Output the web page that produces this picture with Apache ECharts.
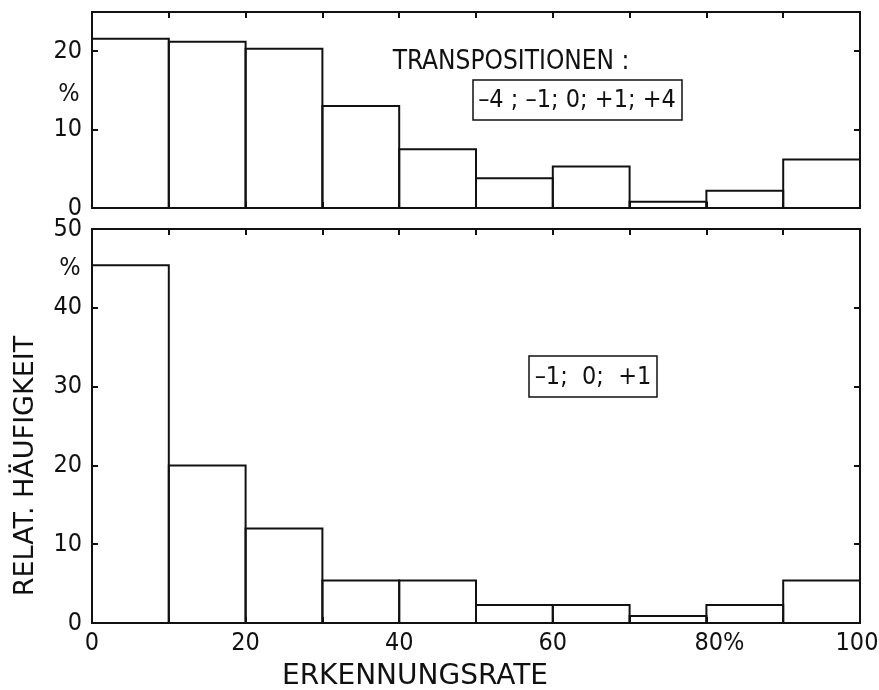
<!DOCTYPE html>
<html>
<head>
<meta charset="utf-8">
<script src="https://cdn.jsdelivr.net/npm/echarts@6/dist/echarts.min.js"></script>
<style>
html,body{margin:0;padding:0;background:#fff;}
#c{width:879px;height:690px;}
</style>
</head>
<body>
<div id="c"></div>
<script>
// ---- data ----
const binStarts = [0, 10, 20, 30, 40, 50, 60, 70, 80, 90];
const binWidth = 10;
const topValues = [21.6, 21.2, 20.3, 13.0, 7.5, 3.8, 5.3, 0.8, 2.2, 6.2];     // TRANSPOSITIONEN -4; -1; 0; +1; +4
const bottomValues = [45.4, 20.0, 12.0, 5.4, 5.4, 2.3, 2.3, 0.9, 2.3, 5.4];  // -1; 0; +1
const xTickValues = [0, 20, 40, 60, 80, 100];
const xTickLabels = ['0', '20', '40', '60', '80%', '100'];
const topYTicks = [0, 10, 20];
const bottomYTicks = [0, 10, 20, 30, 40, 50];
const xTitle = 'ERKENNUNGSRATE';
const yTitle = 'RELAT. HÄUFIGKEIT';
const legendTitle = 'TRANSPOSITIONEN :';
const topBoxText = '–4 ; –1; 0; +1; +4';
const bottomBoxText = '–1;  0;  +1';

const FONT = '"DejaVu Sans Condensed", "DejaVu Sans", sans-serif';
const WIDE = '"DejaVu Sans", sans-serif';
const INK = '#111';

const chart = echarts.init(document.getElementById('c'), null, {renderer: 'canvas'});

function toRows(vals) {
  return binStarts.map((s, i) => [s, s + binWidth, vals[i]]);
}
function renderBin(params, api) {
  const p0 = api.coord([api.value(0), api.value(2)]);
  const p1 = api.coord([api.value(1), 0]);
  return {
    type: 'rect',
    shape: {x: p0[0], y: p0[1], width: p1[0] - p0[0], height: p1[1] - p0[1]},
    style: {fill: 'none', stroke: INK, lineWidth: 2}
  };
}
const lineStyle = {color: INK, width: 2};
function xAx(gridIndex, position, showLabels) {
  return {
    type: 'value', gridIndex, position, min: 0, max: 100, interval: 10,
    splitLine: {show: false},
    axisLine: {show: true, onZero: false, lineStyle},
    axisTick: {show: true, inside: true, length: 6, lineStyle},
    axisLabel: {
      show: showLabels, margin: 8, color: INK, fontFamily: FONT, fontSize: 25,
      formatter: (v, idx) => {
        const i = xTickValues.indexOf(v);
        if (i < 0) return '';
        const t = xTickLabels[i];
        if (t.endsWith('%')) return '{s|}' + t;
        if (i === xTickValues.length - 1) return t + '{r|}';
        return t;
      },
      rich: {s: {width: 26}, r: {width: 6}}
    }
  };
}
function yAx(gridIndex, position, max, ticks, showLabels) {
  return {
    type: 'value', gridIndex, position, min: 0, max, interval: 10,
    splitLine: {show: false},
    axisLine: {show: true, onZero: false, lineStyle},
    axisTick: {show: true, inside: true, length: 6, lineStyle},
    axisLabel: {
      show: showLabels, margin: 10, color: INK, fontFamily: FONT, fontSize: 25,
      showMaxLabel: true,
      formatter: v => ticks.indexOf(v) >= 0 ? String(v) : ''
    }
  };
}

const option = {
  backgroundColor: '#fff',
  animation: false,
  grid: [
    {left: 92, right: 19, top: 12, height: 196, outerBoundsMode: 'none', containLabel: false},
    {left: 92, right: 19, top: 229, height: 394, outerBoundsMode: 'none', containLabel: false}
  ],
  xAxis: [
    xAx(0, 'bottom', false), xAx(0, 'top', false),
    xAx(1, 'bottom', true), xAx(1, 'top', false)
  ],
  yAxis: [
    yAx(0, 'left', 25, topYTicks, true), yAx(0, 'right', 25, topYTicks, false),
    yAx(1, 'left', 50, bottomYTicks, true), yAx(1, 'right', 50, bottomYTicks, false)
  ],
  series: [
    {type: 'custom', xAxisIndex: 0, yAxisIndex: 0, data: toRows(topValues),
     encode: {x: [0, 1], y: 2}, renderItem: renderBin, z: 5},
    {type: 'custom', xAxisIndex: 2, yAxisIndex: 2, data: toRows(bottomValues),
     encode: {x: [0, 1], y: 2}, renderItem: renderBin, z: 5}
  ],
  graphic: [
    {type: 'text', x: 69, y: 94, style: {text: '%', font: '25px ' + FONT, fill: INK, align: 'center', verticalAlign: 'middle'}},
    {type: 'text', x: 70, y: 268, style: {text: '%', font: '25px ' + FONT, fill: INK, align: 'center', verticalAlign: 'middle'}},
    {type: 'text', x: 415, y: 677, style: {text: xTitle, font: '28px ' + WIDE, fill: INK, align: 'center', verticalAlign: 'middle'}},
    {type: 'text', x: 26, y: 466, rotation: Math.PI / 2, style: {text: yTitle, font: '27px ' + WIDE, fill: INK, align: 'center', verticalAlign: 'middle'}},
    {type: 'text', x: 511, y: 62, style: {text: legendTitle, font: '26px ' + FONT, fill: INK, align: 'center', verticalAlign: 'middle'}},
    {type: 'rect', shape: {x: 473, y: 80, width: 209, height: 40}, style: {fill: '#fff', stroke: INK, lineWidth: 1.5}, z: 10},
    {type: 'text', x: 577, y: 100, z: 11, style: {text: topBoxText, font: '25px ' + FONT, fill: INK, align: 'center', verticalAlign: 'middle'}},
    {type: 'rect', shape: {x: 529, y: 356, width: 128, height: 41}, style: {fill: '#fff', stroke: INK, lineWidth: 1.5}, z: 10},
    {type: 'text', x: 593, y: 377, z: 11, style: {text: bottomBoxText, font: '25px ' + FONT, fill: INK, align: 'center', verticalAlign: 'middle'}}
  ]
};
chart.setOption(option);
</script>
</body>
</html>
